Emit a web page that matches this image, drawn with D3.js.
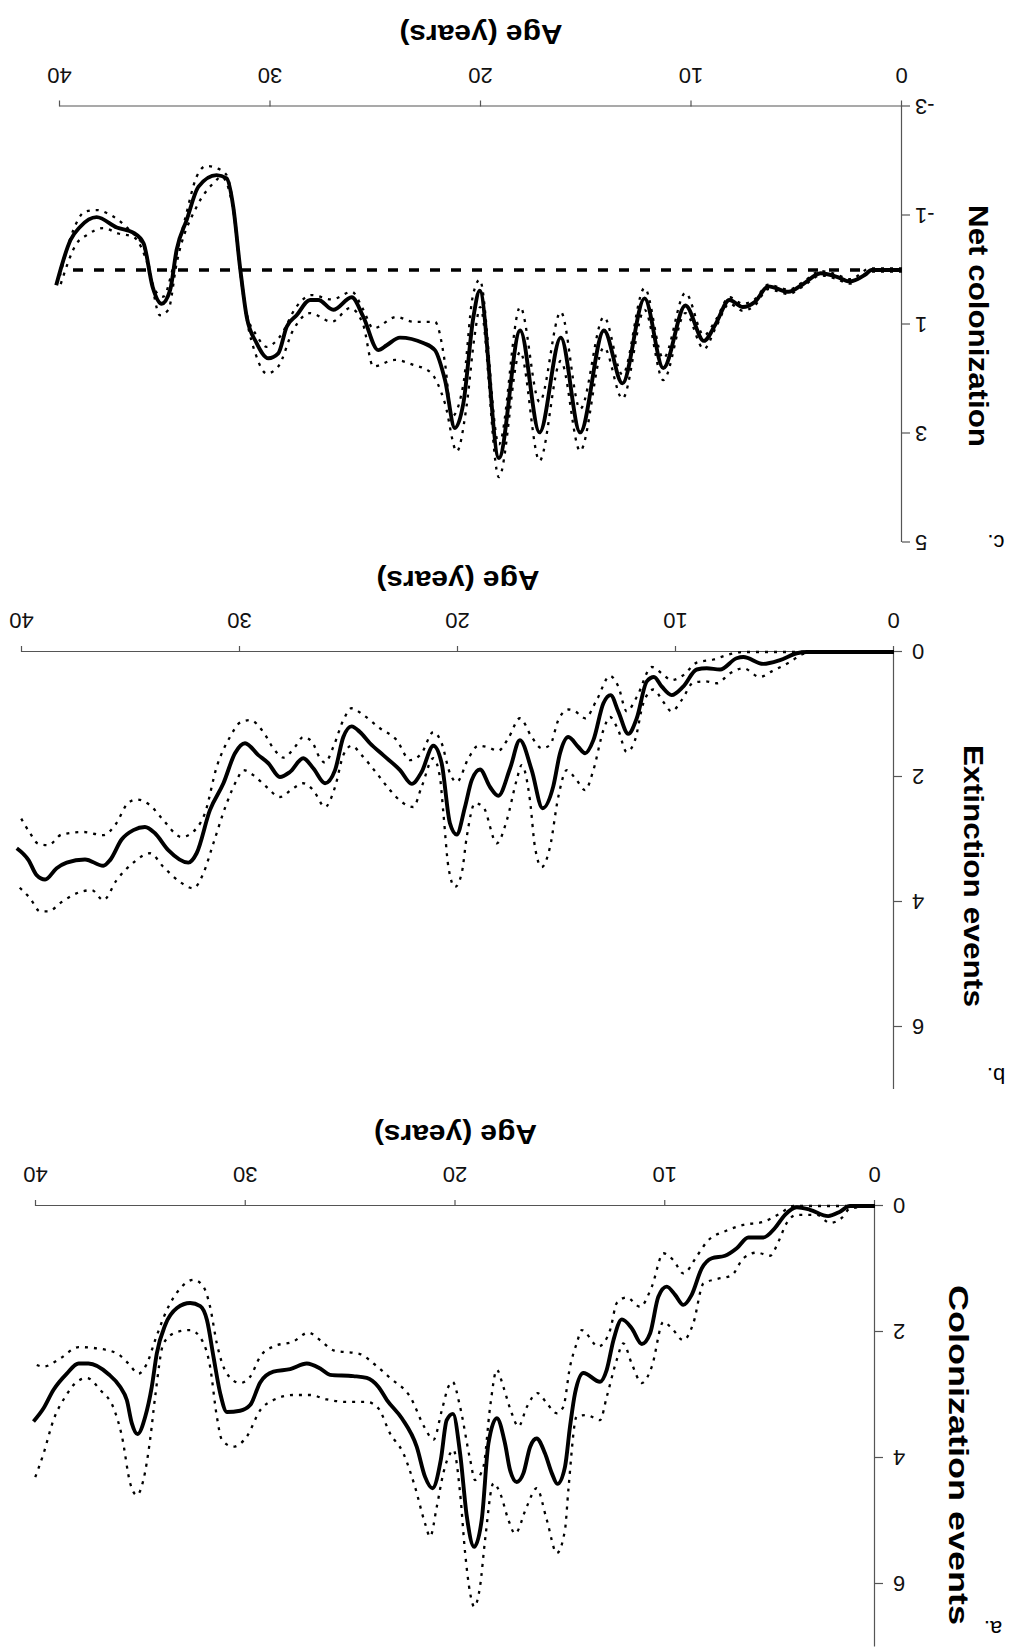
<!DOCTYPE html>
<html>
<head>
<meta charset="utf-8">
<script src="https://cdn.jsdelivr.net/npm/d3@7"></script>
<style>
  body { margin: 0; background: #fff; }
  text { font-family: "Liberation Sans", Arial, Helvetica, sans-serif; }
</style>
</head>
<body>
<svg id="fig"></svg>
<script>
var W = 1009, H = 1648;

// x ticks shared by all panels (age, years)
var ageTicks = [0, 10, 20, 30, 40];

// a. Colonization events  [age, value]
var colMean = [[0,0],[1.2,0],[1.67,0.09],[2.23,0.16],[3.1,0.06],[3.73,0.02],[4.29,0.14],[4.77,0.35],[5.32,0.5],[6.04,0.5],[6.59,0.67],[7.15,0.79],[7.78,0.83],[8.26,0.99],[8.74,1.41],[9.14,1.57],[9.53,1.41],[9.93,1.28],[10.33,1.44],[10.72,2.02],[11.12,2.19],[11.6,1.94],[12.07,1.8],[12.47,2.13],[12.79,2.6],[13.11,2.79],[13.9,2.65],[14.3,2.97],[14.54,3.5],[14.78,4.14],[15.14,4.41],[15.41,4.24],[15.73,3.93],[16.13,3.69],[16.44,3.82],[16.76,4.24],[17.08,4.38],[17.4,4.19],[17.64,3.77],[18.03,3.37],[18.43,3.77],[18.75,4.98],[19.11,5.41],[19.46,4.93],[19.78,3.93],[20.12,3.3],[20.42,3.4],[20.7,4.03],[21.1,4.48],[21.45,4.3],[21.85,3.82],[22.56,3.37],[23.27,3.08],[23.68,2.87],[24.23,2.73],[24.87,2.7],[25.98,2.68],[26.45,2.58],[27.09,2.5],[27.88,2.59],[28.68,2.63],[29.31,2.8],[29.79,3.16],[30.27,3.25],[30.9,3.27],[31.22,2.97],[31.54,2.39],[31.85,1.81],[32.17,1.59],[32.65,1.54],[33.28,1.62],[33.84,1.89],[34.24,2.34],[34.48,2.87],[34.79,3.34],[35.16,3.62],[35.43,3.45],[35.67,3.08],[35.99,2.87],[36.54,2.67],[37.5,2.5],[37.97,2.5],[38.53,2.66],[39.17,2.92],[39.64,3.21],[40.12,3.42]];
var colLo = [[0,0],[1.6,0],[2.8,0],[3.89,0],[4.53,0.12],[5.32,0.25],[6.28,0.3],[7.07,0.39],[8.02,0.57],[8.5,0.8],[9.14,1.07],[9.61,0.86],[10.09,0.75],[10.64,1.28],[11.2,1.6],[11.84,1.45],[12.31,1.54],[12.63,1.97],[13.19,2.23],[13.98,1.97],[14.22,2.18],[14.54,2.55],[14.86,3.19],[15.17,3.29],[15.65,3.13],[16.09,2.97],[16.6,3.19],[17.0,3.5],[17.32,3.29],[17.72,2.87],[18.03,2.6],[18.35,3.19],[18.67,4.14],[19.07,4.35],[19.3,4.03],[19.78,3.19],[20.14,2.79],[20.34,2.87],[20.65,3.24],[21.05,3.71],[21.45,3.53],[22.16,3.03],[23.12,2.73],[23.91,2.5],[24.55,2.35],[25.82,2.29],[26.45,2.13],[27.01,2.01],[27.73,2.15],[28.68,2.23],[29.31,2.39],[29.79,2.71],[30.27,2.81],[30.9,2.66],[31.38,2.18],[31.7,1.6],[32.02,1.28],[32.49,1.17],[33.13,1.31],[33.76,1.65],[34.32,2.13],[34.71,2.5],[35.11,2.66],[35.59,2.5],[36.14,2.34],[37.1,2.26],[37.97,2.24],[38.85,2.42],[39.64,2.55],[40.12,2.5]];
var colHi = [[0,0],[1.19,0.04],[1.59,0.19],[2.14,0.27],[2.78,0.14],[3.73,0.14],[4.21,0.27],[4.61,0.57],[5.0,0.79],[5.64,0.74],[6.28,0.83],[6.83,1.1],[7.55,1.16],[8.18,1.23],[8.66,1.86],[9.14,2.13],[9.69,1.94],[10.09,1.84],[10.64,2.55],[11.12,2.81],[11.6,2.5],[12.0,2.18],[12.31,2.44],[12.79,3.03],[13.11,3.4],[13.74,3.32],[14.22,3.34],[14.62,4.51],[14.78,5.14],[15.17,5.51],[15.65,4.98],[16.13,4.48],[16.6,4.77],[17.16,5.2],[17.48,4.98],[17.87,4.56],[18.19,4.4],[18.59,5.3],[18.83,6.04],[19.11,6.36],[19.3,6.15],[19.54,5.51],[19.78,4.56],[20.1,3.87],[20.26,3.93],[20.58,4.24],[20.89,4.77],[21.21,5.25],[21.45,5.04],[21.93,4.46],[22.48,3.93],[23.12,3.61],[23.68,3.21],[24.23,3.11],[25.18,3.11],[26.14,3.07],[26.93,3.0],[27.73,3.0],[28.68,3.08],[29.31,3.24],[29.95,3.66],[30.59,3.82],[31.14,3.71],[31.38,3.34],[31.7,2.55],[32.09,2.13],[32.65,1.97],[33.28,2.0],[33.92,2.18],[34.32,3.03],[34.56,3.71],[34.88,4.35],[35.19,4.59],[35.51,4.4],[35.9,3.66],[36.3,3.21],[36.94,2.92],[37.57,2.73],[38.05,2.79],[38.61,3.03],[39.17,3.4],[39.64,3.93],[40.12,4.38]];

// b. Extinction events
var extMean = [[0,0],[4.0,0],[4.46,0.02],[5.23,0.13],[6.0,0.19],[6.91,0.08],[7.22,0.1],[7.98,0.28],[8.59,0.26],[9.05,0.28],[9.66,0.55],[10.2,0.69],[10.66,0.55],[11.01,0.4],[11.34,0.47],[11.8,1.06],[12.19,1.31],[12.65,0.95],[13.0,0.69],[13.33,0.82],[13.79,1.41],[14.17,1.62],[14.48,1.52],[14.94,1.36],[15.32,1.62],[15.63,2.15],[16.12,2.5],[16.62,1.89],[17.16,1.41],[17.61,1.86],[18.15,2.3],[18.53,2.16],[18.99,1.88],[19.37,2.05],[19.68,2.48],[20.06,2.92],[20.37,2.74],[20.75,1.78],[21.13,1.5],[21.67,1.92],[22.12,2.11],[22.66,1.89],[23.43,1.65],[24.04,1.46],[24.5,1.28],[24.88,1.19],[25.26,1.36],[25.64,1.89],[26.1,2.1],[26.64,1.86],[27.1,1.7],[27.71,1.92],[28.17,2.0],[28.7,1.78],[29.16,1.65],[29.77,1.46],[30.23,1.62],[30.76,2.1],[31.38,2.53],[31.99,3.22],[32.37,3.37],[33.29,3.17],[33.9,2.9],[34.36,2.8],[34.89,2.85],[35.43,3.0],[35.96,3.33],[36.27,3.42],[37.11,3.32],[37.95,3.37],[38.41,3.46],[38.94,3.64],[39.33,3.57],[39.7,3.33],[40.24,3.14]];
var extLo = [[0,0],[6.9,0],[7.67,0.05],[8.28,0.12],[9.05,0.17],[9.66,0.37],[10.2,0.45],[10.66,0.34],[11.11,0.24],[11.8,0.72],[12.26,0.95],[12.65,0.55],[13.03,0.38],[13.64,0.77],[14.17,1.06],[14.63,0.95],[14.94,0.92],[15.4,1.09],[15.78,1.49],[16.16,1.54],[16.62,1.36],[17.16,1.06],[17.69,1.38],[18.15,1.58],[18.68,1.52],[19.07,1.5],[19.52,1.7],[20.06,2.08],[20.37,1.94],[20.75,1.46],[21.13,1.28],[21.67,1.62],[22.2,1.73],[22.81,1.41],[23.58,1.22],[24.34,1.01],[24.88,0.9],[25.26,1.09],[25.72,1.52],[26.1,1.77],[26.33,1.7],[26.71,1.43],[27.1,1.36],[27.48,1.52],[28.01,1.69],[28.47,1.54],[28.93,1.28],[29.54,1.09],[30.0,1.13],[30.46,1.36],[31.07,1.84],[31.61,2.58],[31.99,2.82],[32.67,2.96],[33.59,2.66],[34.13,2.45],[34.74,2.36],[35.12,2.41],[35.73,2.77],[36.27,2.93],[37.19,2.88],[38.18,2.92],[38.79,3.09],[39.25,3.07],[39.63,2.9],[40.17,2.58]];
var extHi = [[0,0],[3.5,0],[4.16,0.03],[4.77,0.16],[5.61,0.31],[6.15,0.4],[6.91,0.26],[7.52,0.34],[8.13,0.5],[8.67,0.47],[9.2,0.49],[9.74,0.77],[10.2,0.95],[10.58,0.8],[11.04,0.6],[11.5,0.82],[11.88,1.41],[12.26,1.6],[12.65,1.25],[13.03,1.04],[13.33,1.25],[13.79,1.89],[14.17,2.21],[14.56,2.05],[15.01,1.89],[15.4,2.32],[15.78,3.12],[16.16,3.44],[16.47,3.12],[16.7,2.37],[17.08,1.81],[17.31,2.05],[17.76,2.69],[18.22,3.06],[18.84,2.48],[19.22,2.42],[19.6,2.96],[19.83,3.54],[20.14,3.76],[20.44,3.44],[20.67,2.58],[20.83,2.0],[21.13,1.7],[21.67,2.16],[22.05,2.48],[22.58,2.4],[23.12,2.21],[23.73,1.94],[24.42,1.65],[24.88,1.5],[25.26,1.65],[25.64,2.16],[26.1,2.48],[26.64,2.21],[27.1,2.1],[27.56,2.18],[28.17,2.32],[28.78,2.16],[29.39,1.97],[29.85,1.89],[30.15,2.05],[30.61,2.42],[31.22,3.06],[31.68,3.54],[32.14,3.78],[32.75,3.68],[33.51,3.44],[34.13,3.22],[34.89,3.37],[35.66,3.65],[36.27,3.97],[36.8,3.81],[37.34,3.84],[38.18,4.0],[38.79,4.15],[39.17,4.15],[39.63,3.94],[40.24,3.73]];

// c. Net colonization
var netMean = [[0,0],[1.44,0],[1.76,0.09],[2.48,0.21],[3.13,0.12],[3.86,0.06],[4.74,0.27],[5.39,0.4],[6.35,0.3],[7.0,0.59],[7.56,0.68],[8.2,0.55],[8.85,0.99],[9.41,1.3],[10.29,0.65],[11.34,1.8],[12.23,0.52],[13.28,2.08],[14.16,1.11],[15.29,2.98],[16.21,1.24],[17.22,2.98],[18.14,1.11],[19.15,3.45],[20.06,0.38],[20.36,0.86],[20.84,2.45],[21.24,2.9],[21.71,2.02],[22.19,1.47],[22.74,1.34],[23.85,1.24],[24.48,1.38],[24.88,1.47],[25.59,0.86],[26.14,0.5],[27.02,0.73],[27.73,0.55],[28.12,0.55],[28.76,0.83],[29.23,1.04],[29.63,1.53],[30.1,1.62],[30.66,1.34],[31.13,0.86],[31.45,-0.06],[31.77,-1.16],[32.08,-1.68],[32.56,-1.74],[33.42,-1.53],[33.98,-0.92],[34.46,-0.37],[34.77,0.37],[35.17,0.62],[35.6,0.31],[36.03,-0.49],[36.5,-0.68],[37.3,-0.78],[38.26,-0.97],[39.05,-0.79],[39.5,-0.55],[40.18,0.28]];
var netLo = [[0,-0.03],[1.5,-0.03],[2.48,0.17],[3.13,0.08],[3.86,0.02],[4.74,0.23],[5.39,0.36],[6.35,0.27],[7.0,0.54],[7.56,0.62],[8.2,0.5],[8.85,0.92],[9.41,1.2],[10.29,0.42],[11.34,1.62],[12.23,0.33],[13.28,1.92],[14.16,0.86],[15.29,2.55],[16.21,0.77],[17.22,2.42],[18.14,0.68],[19.15,3.2],[20.06,0.18],[20.4,0.5],[20.84,2.1],[21.39,2.69],[21.71,1.71],[22.19,0.95],[23.22,0.95],[24.01,0.86],[25.12,1.07],[25.59,0.73],[26.14,0.4],[27.09,0.54],[28.04,0.46],[28.76,0.67],[29.55,1.22],[30.18,1.41],[30.66,1.2],[31.13,0.8],[31.45,-0.1],[31.77,-1.2],[32.1,-1.75],[32.56,-1.87],[33.04,-1.91],[33.51,-1.71],[34.07,-0.92],[34.62,-0.06],[35.1,0.49],[35.49,0.37],[35.96,-0.37],[36.67,-0.72],[37.7,-1.03],[38.26,-1.1],[38.81,-1.07],[39.37,-0.73],[40.0,0.1]];
var netHi = [[0,0.03],[1.5,0.03],[2.48,0.25],[3.13,0.16],[3.86,0.1],[4.74,0.31],[5.39,0.44],[6.35,0.35],[7.0,0.65],[7.56,0.75],[8.2,0.62],[8.85,1.06],[9.41,1.45],[10.29,0.79],[11.34,2.02],[12.23,0.73],[13.28,2.36],[14.16,1.42],[15.29,3.32],[16.21,1.67],[17.22,3.5],[18.14,1.5],[19.15,3.8],[20.04,0.68],[20.3,1.2],[20.69,2.51],[21.15,3.33],[21.71,2.45],[22.42,1.87],[23.22,1.74],[24.09,1.65],[25.12,1.77],[25.6,1.0],[26.22,0.7],[27.09,0.95],[28.12,0.79],[28.92,1.1],[29.63,1.77],[30.18,1.9],[30.7,1.55],[31.13,0.9],[31.45,0.0],[31.77,-1.1],[32.32,-1.71],[32.72,-1.59],[33.51,-1.16],[34.46,-0.12],[34.85,0.73],[35.25,0.83],[35.8,-0.06],[36.52,-0.61],[37.23,-0.67],[37.94,-0.77],[38.73,-0.64],[39.2,-0.49],[40.0,0.3]];

// zero reference line of panel c
var netZero = [[0,0],[39.7,0]];

// layout (the whole figure is printed upside down, so it is drawn upright and turned 180 degrees)
var panels = [
  { label: "a.", title: "Colonization events", mean: colMean, lo: colLo, hi: colHi,
    xr: [134, 973], yd: [0, 7], yr: [442, 1], yTicks: [0, 2, 4, 6],
    pad: 10, titleX: 60, titleY: 193, titleLen: 340, labelPos: [16, 21] },
  { label: "b.", title: "Extinction events", mean: extMean, lo: extLo, hi: extHi,
    xr: [115, 987], yd: [0, 7], yr: [996, 558.5], yTicks: [0, 2, 4, 6],
    pad: 10, titleX: 45, titleY: 772, titleLen: 262, labelPos: [13, 574] },
  { label: "c.", title: "Net colonization", mean: netMean, lo: netLo, hi: netHi,
    xr: [107, 949], yd: [-3, 5], yr: [1541.5, 1105.5], yTicks: [-3, -1, 1, 3, 5],
    pad: 5, titleX: 40, titleY: 1322, titleLen: 242, labelPos: [13, 1107], zero: netZero }
];

var svg = d3.select("#fig").attr("width", W).attr("height", H);
var fig = svg.append("g").attr("transform", "rotate(180," + W / 2 + "," + H / 2 + ")");

panels.forEach(function(p) {
  var x = d3.scaleLinear().domain([0, 40]).range(p.xr);
  var y = d3.scaleLinear().domain(p.yd).range(p.yr);
  var g = fig.append("g");

  var xAxis = d3.axisBottom(x).tickValues(ageTicks).tickSize(6).tickSizeOuter(0).tickPadding(17);
  var yAxis = d3.axisLeft(y).tickValues(p.yTicks).tickSize(8).tickSizeOuter(0).tickPadding(p.pad)
      .tickFormat(function(d) { return String(d); });

  g.append("g")
      .attr("class", "x axis")
      .attr("transform", "translate(0," + p.yr[0] + ")")
      .call(xAxis);

  g.append("g")
      .attr("class", "y axis")
      .attr("transform", "translate(" + p.xr[0] + ",0)")
      .call(yAxis);

  g.selectAll(".axis path, .axis line").attr("stroke", "#555").attr("stroke-width", 1.2);
  g.selectAll(".axis text").attr("font-size", 22).attr("fill", "#111");

  var line = d3.line()
      .x(function(d) { return x(d[0]); })
      .y(function(d) { return y(d[1]); })
      .curve(d3.curveMonotoneX);

  if (p.zero) {
    g.append("path")
        .attr("d", line(p.zero))
        .attr("fill", "none")
        .attr("stroke", "#000")
        .attr("stroke-width", 3.5)
        .attr("stroke-dasharray", "10,11");
  }

  [p.lo, p.hi].forEach(function(s) {
    g.append("path")
        .attr("d", line(s))
        .attr("fill", "none")
        .attr("stroke", "#000")
        .attr("stroke-width", 2.3)
        .attr("stroke-dasharray", "3,6");
  });

  g.append("path")
      .attr("d", line(p.mean))
      .attr("fill", "none")
      .attr("stroke", "#000")
      .attr("stroke-width", 3.9)
      .attr("stroke-linejoin", "round");

  // axis titles
  g.append("text")
      .attr("x", x(20))
      .attr("y", p.yr[0] + 74)
      .attr("text-anchor", "middle")
      .attr("dominant-baseline", "middle")
      .attr("font-size", 27)
      .attr("font-weight", "bold")
      .attr("textLength", 163)
      .attr("lengthAdjust", "spacingAndGlyphs")
      .text("Age (years)");

  g.append("text")
      .attr("transform", "translate(" + p.titleX + "," + p.titleY + ") rotate(-90)")
      .attr("text-anchor", "middle")
      .attr("font-size", 28)
      .attr("font-weight", "bold")
      .attr("textLength", p.titleLen)
      .attr("lengthAdjust", "spacingAndGlyphs")
      .text(p.title);

  g.append("text")
      .attr("x", p.labelPos[0])
      .attr("y", p.labelPos[1])
      .attr("text-anchor", "middle")
      .attr("dominant-baseline", "middle")
      .attr("font-size", 22)
      .text(p.label);
});
</script>
</body>
</html>
